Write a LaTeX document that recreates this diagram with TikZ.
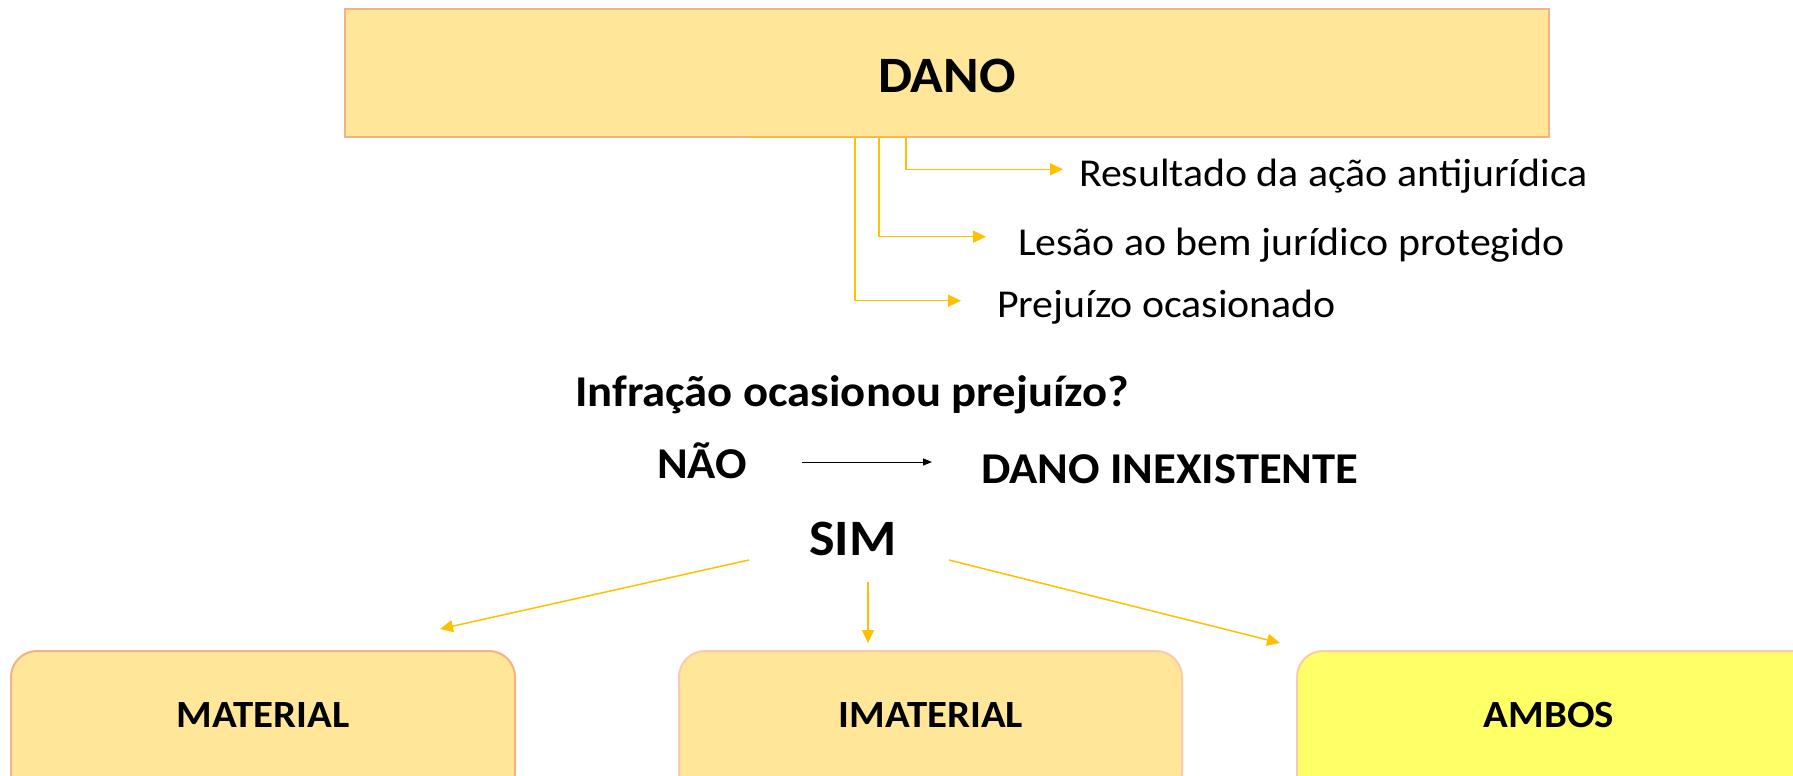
\documentclass[tikz,border=0pt]{standalone}
\usepackage{fontspec}
\setmainfont{Carlito}[FakeStretch=1.06]
\usetikzlibrary{arrows.meta}
\definecolor{boxfill}{HTML}{FFE699}
\definecolor{boxline}{HTML}{F4B183}
\definecolor{boxlinelight}{HTML}{F8CBAD}
\definecolor{ambfill}{HTML}{FFFF66}
\definecolor{gold}{HTML}{FFC000}
\tikzset{
  txt/.style={inner sep=0pt, outer sep=0pt, text=black},
  goldline/.style={draw=gold, line width=1.5pt, -{Triangle[length=13pt,width=12pt]}},
  blackarrow/.style={draw=black, line width=1pt, -{Triangle[length=9pt,width=7pt]}},
  rbox/.style={rounded corners=26pt, line width=2pt},
}
\begin{document}
\begin{tikzpicture}[x=1pt,y=-1pt]
\useasboundingbox (0,0) rectangle (1793,776);
\clip (0,0) rectangle (1793,776);
% DANO box
\draw[fill=boxfill, draw=boxline, line width=2.5pt] (345,9) rectangle (1549,137);
\node[txt, anchor=base] (dano) at (947,92.6) {\fontsize{51}{60}\selectfont\bfseries DANO};
\coordinate (dsrc) at (749,137.5);
% side items
\node[txt, anchor=base west] (res) at (1079,186.7) {\fontsize{39.5}{46}\selectfont Resultado da ação antijurídica};
\node[txt, anchor=base west] (les) at (1018,255) {\fontsize{39.5}{46}\selectfont Lesão ao bem jurídico protegido};
\node[txt, anchor=base west] (pre) at (997,317.3) {\fontsize{39.5}{46}\selectfont Prejuízo ocasionado};
\coordinate (resin) at (1063,169.3);
\coordinate (lesin) at (986,236.7);
\coordinate (prein) at (961,300.7);
\draw[goldline] (dsrc) -| (906,169.3) -- (resin);
\draw[goldline] (dsrc) -| (879,236.7) -- (lesin);
\draw[goldline] (dsrc) -| (855,300.7) -- (prein);
% question
\node[txt, anchor=base west] (q) at (575,406) {\fontsize{44}{52}\selectfont\bfseries Infração ocasionou prejuízo?};
\node[txt, anchor=base west] (nao) at (657,478.3) {\fontsize{44}{52}\selectfont\bfseries NÃO};
\node[txt, anchor=base west] (inex) at (981,483.3) {\fontsize{44}{52}\selectfont\bfseries DANO INEXISTENTE};
\coordinate (naoout) at (802,462);
\coordinate (inexin) at (932,462);
\draw[blackarrow] (naoout) -- (inexin);
\node[txt, anchor=base] (sim) at (853,555) {\fontsize{51}{60}\selectfont\bfseries SIM};
% bottom boxes
\draw[rbox, fill=boxfill, draw=boxline] (11,651) rectangle (515,800);
\draw[rbox, fill=boxfill, draw=boxlinelight] (679,651) rectangle (1182,800);
\draw[rbox, fill=ambfill, draw=boxlinelight] (1297,651) rectangle (1820,800);
\node[txt, anchor=base] (mat) at (263,727.3) {\fontsize{38.5}{46}\selectfont\bfseries MATERIAL};
\node[txt, anchor=base] (imat) at (931,727.3) {\fontsize{38.5}{46}\selectfont\bfseries IMATERIAL};
\node[txt, anchor=base] (amb) at (1549,727.3) {\fontsize{38.5}{46}\selectfont\bfseries AMBOS};
% arrows from SIM
\coordinate (simL) at (749,560);
\coordinate (simM) at (868,582);
\coordinate (simR) at (949,560);
\coordinate (matin) at (440,629);
\coordinate (imatin) at (868,643);
\coordinate (ambin) at (1280,643);
\draw[goldline] (simL) -- (matin);
\draw[goldline] (simM) -- (imatin);
\draw[goldline] (simR) -- (ambin);
\end{tikzpicture}
\end{document}
